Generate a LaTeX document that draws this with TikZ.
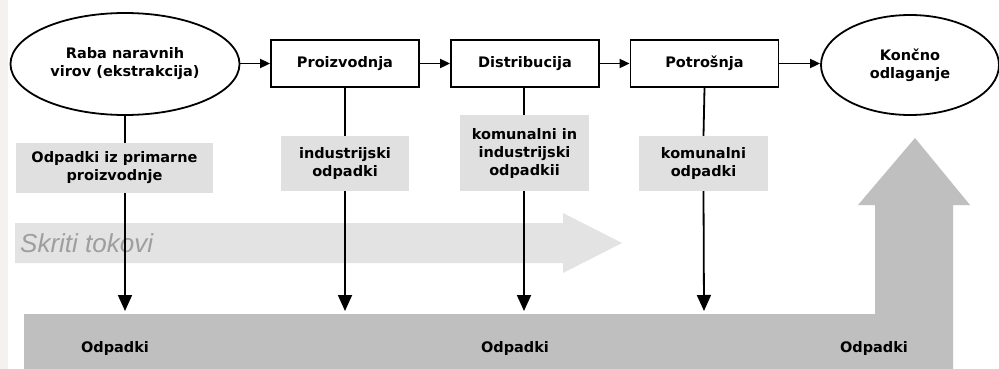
\documentclass[tikz,border=0pt]{standalone}
\usepackage{fontspec}
\setmainfont{DejaVu Sans}
\newfontfamily\skritifont{Liberation Sans}
\usetikzlibrary{shapes.geometric,arrows.meta}
\begin{document}
\begin{tikzpicture}[x=1pt,y=-1pt,
  every node/.style={font=\bfseries\fontsize{14.5}{18}\selectfont, align=center, inner sep=0pt},
  procbox/.style={draw=black, line width=1.8pt, minimum width=148pt, minimum height=47pt},
  procell/.style={draw=black, line width=1.8pt, ellipse},
  wastebox/.style={fill=black!12},
  flow/.style={line width=1.8pt, -{Triangle[length=10pt,width=9pt]}},
  drop/.style={line width=1.8pt, -{Triangle[length=16pt,width=14pt]}},
  link/.style={line width=1.8pt},
  lbl/.style={font=\bfseries\fontsize{14.5}{18}\selectfont}
]
\useasboundingbox (0,0) rectangle (999,369);
\fill[white] (0,0) rectangle (999,369);
\fill[color={rgb,255:red,245;green,241;blue,238}] (0,0) rectangle (8,369);

% hidden flows arrow
\fill[black!11] (15,223) -- (563,223) -- (563,213) -- (622,243) -- (563,273) -- (563,263) -- (15,263) -- cycle;
\node[anchor=west, font=\skritifont\itshape\fontsize{26}{28}\selectfont, text=black!38] (skriti) at (20,243) {Skriti tokovi};

% bottom waste arrow
\fill[black!25] (24,314) -- (875,314) -- (875,205) -- (858,205) -- (915,138) -- (970,205) -- (953,205) -- (953,369) -- (24,369) -- cycle;

% process nodes
\node[procell, minimum width=229pt, minimum height=102pt] (raba) at (125,64) {Raba naravnih\\virov (ekstrakcija)};
\node[procbox] (proiz) at (345,63.5) {Proizvodnja};
\node[procbox] (distr) at (525,63.5) {Distribucija};
\node[procbox] (potr) at (704.5,63.5) {Potrošnja};
\node[procell, minimum width=178pt, minimum height=100pt] (konc) at (910,65) {Končno\\odlaganje};

\draw[flow] (raba.east |- proiz.west) -- (proiz.west);
\draw[flow] (proiz.east) -- (distr.west);
\draw[flow] (distr.east) -- (potr.west);
\draw[flow] (potr.east) -- (konc.west |- potr.east);

% waste labels
\node[wastebox, minimum width=197pt, minimum height=50pt] (w1) at (114.5,168) {Odpadki iz primarne\\proizvodnje};
\node[wastebox, minimum width=128pt, minimum height=55pt] (w2) at (345,163.5) {industrijski\\odpadki};
\node[wastebox, minimum width=129pt, minimum height=76pt] (w3) at (524.5,153) {komunalni in\\industrijski\\odpadkii};
\node[wastebox, minimum width=129pt, minimum height=55pt] (w4) at (703.5,163.5) {komunalni\\odpadki};

\coordinate (d1) at (125,311);
\coordinate (d2) at (345,311);
\coordinate (d3) at (524,311);
\coordinate (d4) at (704,311);

\draw[link] (raba.south) -- (125,143);
\draw[drop] (125,193) -- (d1);
\draw[link] (proiz.south) -- (w2.north);
\draw[drop] (w2.south) -- (d2);
\draw[link] (524,87) -- (524,115);
\draw[drop] (524,191) -- (d3);
\draw[link] (potr.south) -- (w4.north);
\draw[drop] (w4.south) -- (d4);

\node[lbl] (o1) at (115,348) {Odpadki};
\node[lbl] (o2) at (515,348) {Odpadki};
\node[lbl] (o3) at (874,348) {Odpadki};
\end{tikzpicture}
\end{document}
